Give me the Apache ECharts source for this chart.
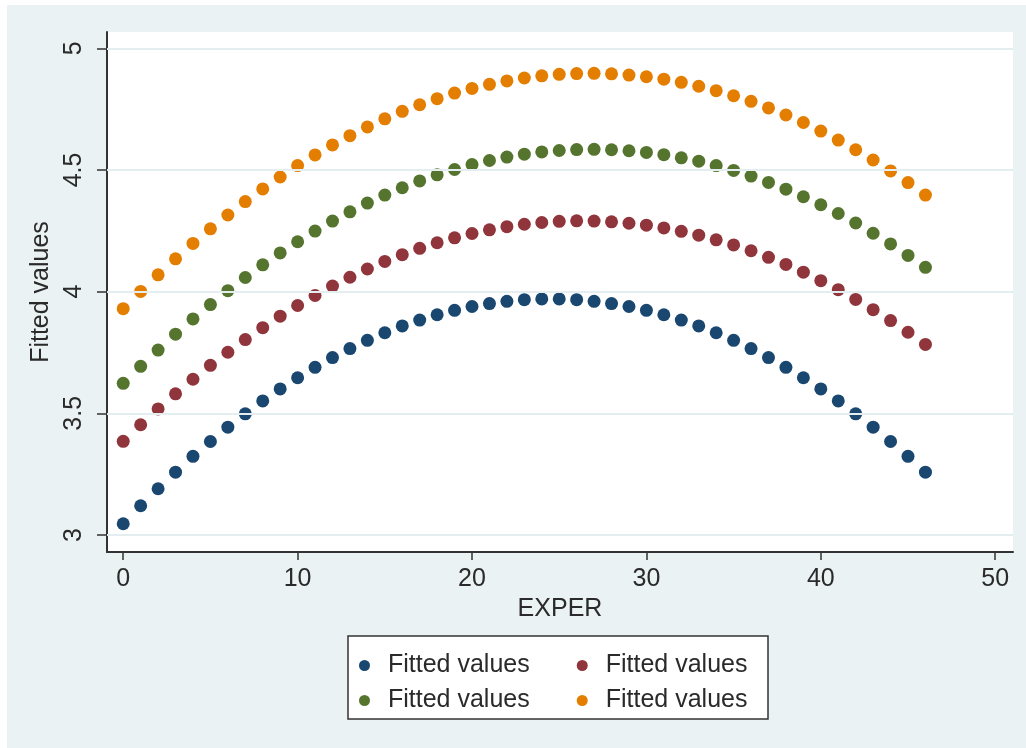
<!DOCTYPE html>
<html>
<head>
<meta charset="utf-8">
<script src="https://cdn.jsdelivr.net/npm/echarts@6/dist/echarts.min.js"></script>
<style>
html,body{margin:0;padding:0;background:#ffffff;}
#chart{width:1026px;height:748px;}
</style>
</head>
<body>
<div id="chart"></div>
<script>
const exper = [0,1,2,3,4,5,6,7,8,9,10,11,12,13,14,15,16,17,18,19,20,21,22,23,24,25,26,27,28,29,30,31,32,33,34,35,36,37,38,39,40,41,42,43,44,45,46];

const fittedBlue = [3.046,3.120,3.190,3.258,3.323,3.384,3.443,3.498,3.551,3.600,3.646,3.689,3.729,3.766,3.800,3.831,3.859,3.883,3.905,3.923,3.939,3.951,3.960,3.967,3.970,3.970,3.967,3.960,3.951,3.939,3.923,3.905,3.883,3.859,3.831,3.800,3.766,3.729,3.689,3.646,3.600,3.551,3.498,3.443,3.384,3.323,3.258];

const fittedRed = [3.385,3.453,3.518,3.580,3.640,3.697,3.751,3.803,3.852,3.899,3.943,3.984,4.023,4.059,4.093,4.124,4.152,4.178,4.201,4.221,4.239,4.254,4.267,4.277,4.284,4.289,4.291,4.290,4.287,4.281,4.273,4.262,4.248,4.232,4.213,4.192,4.168,4.141,4.112,4.080,4.045,4.008,3.968,3.926,3.881,3.833,3.783];

const fittedGreen = [3.623,3.693,3.760,3.825,3.888,3.947,4.004,4.058,4.110,4.159,4.205,4.249,4.290,4.328,4.364,4.397,4.427,4.455,4.480,4.502,4.522,4.539,4.553,4.565,4.574,4.580,4.584,4.585,4.583,4.579,4.572,4.563,4.550,4.536,4.518,4.498,4.475,4.449,4.421,4.390,4.357,4.321,4.282,4.240,4.196,4.149,4.100];

const fittedOrange = [3.930,4.001,4.069,4.135,4.198,4.258,4.315,4.370,4.422,4.471,4.518,4.562,4.603,4.641,4.677,4.710,4.741,4.768,4.793,4.816,4.835,4.852,4.866,4.878,4.887,4.893,4.896,4.897,4.895,4.890,4.883,4.873,4.860,4.844,4.826,4.805,4.782,4.755,4.726,4.695,4.660,4.623,4.583,4.541,4.496,4.448,4.397];

const xTicks = [0,10,20,30,40,50];
const yTicks = [3,3.5,4,4.5,5];

const legendLabel = 'Fitted values';
const seriesNames = ['Fitted values 1','Fitted values 2','Fitted values 3','Fitted values 4'];
const colors = ['#1a476f','#90353b','#55752f','#e37e00'];
const allValues = [fittedBlue, fittedRed, fittedGreen, fittedOrange];

const FONT = '"Liberation Sans", Arial, sans-serif';
const TXT = '#2a2a2a';

const chart = echarts.init(document.getElementById('chart'), null, {renderer:'canvas'});

const scatterSeries = allValues.map((vals, i) => ({
  name: seriesNames[i],
  type: 'scatter',
  symbol: 'circle',
  symbolSize: 13,
  z: 3,
  itemStyle: {color: colors[i], opacity: 1},
  data: exper.map((x, j) => [x, vals[j]])
}));

const gridSeries = {
  name: 'grid',
  type: 'scatter',
  data: [],
  z: 1,
  silent: true,
  markLine: {
    silent: true,
    symbol: ['none','none'],
    label: {show: false},
    lineStyle: {color: '#e4edf0', width: 2, type: 'solid'},
    data: yTicks.map(v => ({yAxis: v}))
  }
};

const legendCommon = {
  orient: 'horizontal',
  padding: 0,
  itemWidth: 11,
  itemHeight: 11,
  itemGap: 47,
  icon: 'circle',
  selectedMode: false,
  formatter: () => legendLabel,
  textStyle: {fontFamily: FONT, fontSize: 25, color: TXT, padding: [0,0,0,13]}
};

chart.setOption({
  backgroundColor: '#eaf2f3',
  animation: false,
  graphic: [
    {type:'rect', shape:{x:0,y:0,width:7,height:748}, style:{fill:'#ffffff'}, silent:true},
    {type:'rect', shape:{x:0,y:0,width:1026,height:5}, style:{fill:'#ffffff'}, silent:true},
    {type:'rect', shape:{x:348,y:636,width:420,height:83}, style:{fill:'#ffffff', stroke:'#333333', lineWidth:1.5}, silent:true}
  ],
  grid: {left:107, top:32, right:13, bottom:196, show:true, backgroundColor:'#ffffff', borderWidth:0},
  xAxis: {
    type: 'value',
    min: -0.93,
    max: 51.02,
    name: 'EXPER',
    nameLocation: 'middle',
    nameGap: 40,
    nameTextStyle: {fontFamily: FONT, fontSize: 25, color: TXT},
    axisLine: {show:true, onZero:false, lineStyle:{color:'#333333', width:2}},
    axisTick: {show:true, length:8, lineStyle:{color:'#333333', width:1.5}, customValues: xTicks},
    axisLabel: {fontFamily: FONT, fontSize: 25, color: TXT, margin: 15, customValues: xTicks},
    splitLine: {show:false}
  },
  yAxis: {
    type: 'value',
    min: 2.93,
    max: 5.067,
    name: 'Fitted values',
    nameLocation: 'middle',
    nameRotate: 90,
    nameGap: 49,
    nameTextStyle: {fontFamily: FONT, fontSize: 25, color: TXT},
    axisLine: {show:true, onZero:false, lineStyle:{color:'#333333', width:2}},
    axisTick: {show:true, length:10, lineStyle:{color:'#333333', width:1.5}, customValues: yTicks},
    axisLabel: {fontFamily: FONT, fontSize: 25, color: TXT, margin: 20, rotate: 90, customValues: yTicks},
    splitLine: {show:false}
  },
  legend: [
    Object.assign({}, legendCommon, {left: 359, top: 653, data: [seriesNames[0], seriesNames[1]]}),
    Object.assign({}, legendCommon, {left: 359, top: 688, data: [seriesNames[2], seriesNames[3]]})
  ],
  series: [gridSeries].concat(scatterSeries)
});
</script>
</body>
</html>
